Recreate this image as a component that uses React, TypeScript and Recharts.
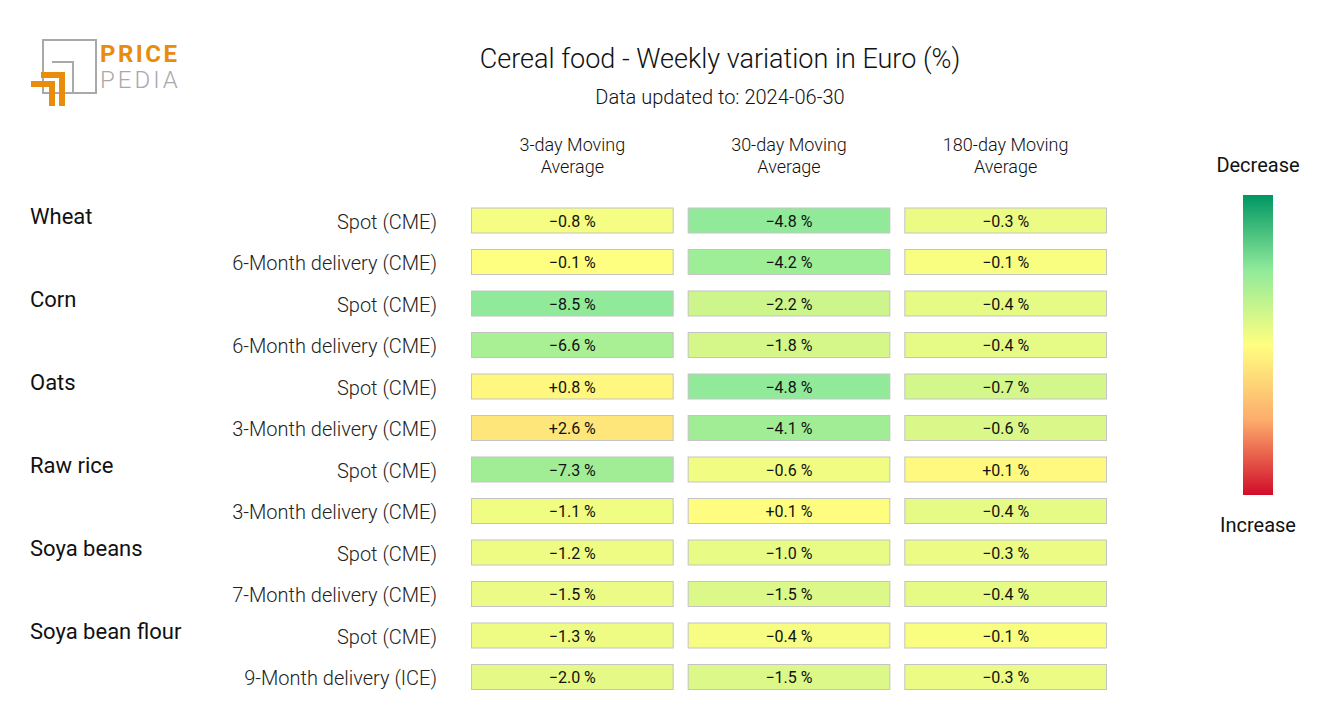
import { BarChart, Bar, XAxis, YAxis } from 'recharts';

// ---------------------------------------------------------------------------
// Data
// ---------------------------------------------------------------------------

const GROUPS = ['Wheat', 'Corn', 'Oats', 'Raw rice', 'Soya beans', 'Soya bean flour'];

const ROW_LABELS = [
  'Spot (CME)',
  '6-Month delivery (CME)',
  'Spot (CME)',
  '6-Month delivery (CME)',
  'Spot (CME)',
  '3-Month delivery (CME)',
  'Spot (CME)',
  '3-Month delivery (CME)',
  'Spot (CME)',
  '7-Month delivery (CME)',
  'Spot (CME)',
  '9-Month delivery (ICE)',
];

const COLUMN_HEADERS = [
  ['3-day Moving', 'Average'],
  ['30-day Moving', 'Average'],
  ['180-day Moving', 'Average'],
];

const MA_3 = [-0.8, -0.1, -8.5, -6.6, 0.8, 2.6, -7.3, -1.1, -1.2, -1.5, -1.3, -2.0];
const MA_30 = [-4.8, -4.2, -2.2, -1.8, -4.8, -4.1, -0.6, 0.1, -1.0, -1.5, -0.4, -1.5];
const MA_180 = [-0.3, -0.1, -0.4, -0.4, -0.7, -0.6, 0.1, -0.4, -0.3, -0.4, -0.1, -0.3];

// half-range of the colour scale for each column
const COLUMN_SCALE = [17, 9.6, 3.5];

// ---------------------------------------------------------------------------
// Colour scale (green = decrease, red = increase)
// ---------------------------------------------------------------------------

const STOPS: Array<[number, number[]]> = [
  [0, [0, 150, 99]],
  [0.25, [144, 234, 154]],
  [0.5, [255, 255, 128]],
  [0.75, [253, 172, 108]],
  [1, [209, 13, 42]],
];

function colourAt(t: number) {
  const p = Math.max(0, Math.min(1, t));
  for (let i = 1; i < STOPS.length; i++) {
    const [t1, c1] = STOPS[i];
    const [t0, c0] = STOPS[i - 1];
    if (p <= t1) {
      const f = (p - t0) / (t1 - t0);
      const c = c0.map((v, k) => Math.round(v + (c1[k] - v) * f));
      return `rgb(${c[0]},${c[1]},${c[2]})`;
    }
  }
  return 'rgb(209,13,42)';
}

const FONT = 'Roboto, "DejaVu Sans", sans-serif';

const table = ROW_LABELS.map((label, i) => ({
  row: i,
  label,
  group: i % 2 === 0 ? GROUPS[i / 2] : '',
  ma3: MA_3[i],
  ma30: MA_30[i],
  ma180: MA_180[i],
  span: 1,
}));

function fmt(v: number) {
  return `${v > 0 ? '+' : v < 0 ? '\u2212' : ''}${Math.abs(v).toFixed(1)} %`;
}

function makeCell(key: 'ma3' | 'ma30' | 'ma180', col: number) {
  return (props: any) => {
    const { x, y, width, height, payload } = props;
    const v = payload[key] as number;
    const gap = 15;
    const fill = colourAt(0.5 + v / (2 * COLUMN_SCALE[col]));
    return (
      <g>
        <rect
          x={x + gap / 2}
          y={y}
          width={width - gap}
          height={height}
          fill={fill}
          stroke="#c4c4c4"
          strokeWidth={1}
        />
        <text
          x={x + width / 2}
          y={y + height / 2 + 6}
          textAnchor="middle"
          fontFamily={FONT}
          fontSize={16}
          fill="#111"
        >
          {fmt(v)}
        </text>
      </g>
    );
  };
}

function RowTick(props: any) {
  const { y, payload } = props;
  const r = table[payload.value];
  if (!r) return null;
  return (
    <g>
      {r.group && (
        <text x={30} y={y + 3} fontFamily={FONT} fontSize={22} fontWeight={400} fill="#111">
          {r.group}
        </text>
      )}
      <text x={437} y={y + 8} textAnchor="end" fontFamily={FONT} fontSize={20} fontWeight={300} fill="#222">
        {r.label}
      </text>
    </g>
  );
}

function HeaderTick(props: any) {
  const { x, payload } = props;
  const idx = Math.floor(payload.value);
  const lines = COLUMN_HEADERS[idx];
  if (!lines) return null;
  return (
    <text x={x} textAnchor="middle" fontFamily={FONT} fontSize={18} fontWeight={300} fill="#111">
      <tspan x={x} y={151}>{lines[0]}</tspan>
      <tspan x={x} y={173}>{lines[1]}</tspan>
    </text>
  );
}

function Overlay() {
  const orange = '#e88c0c';
  const grey = '#a9a9a9';
  return (
    <svg
      width={1320}
      height={720}
      style={{ position: 'absolute', left: 0, top: 0, pointerEvents: 'none' }}
    >
      {/* logo */}
      <rect x={43} y={40} width={53} height={53} fill="none" stroke={grey} strokeWidth={2} />
      <polyline points="52,62 73,62 73,93" fill="none" stroke={grey} strokeWidth={2} />
      <polygon points="41,72 65,72 65,106 59,106 59,78 41,78" fill={orange} />
      <polygon points="31,81 55,81 55,106 49,106 49,87 31,87" fill={orange} />
      <text x={100} y={62} fontFamily={FONT} fontSize={24} fontWeight={700} letterSpacing={2.5} fill={orange}>PRICE</text>
      <text x={100} y={88} fontFamily={FONT} fontSize={24} fontWeight={300} letterSpacing={3} fill={grey}>PEDIA</text>

      {/* title */}
      <text x={720} y={68} textAnchor="middle" fontFamily={FONT} fontSize={27} fontWeight={300} fill="#111">
        Cereal food - Weekly variation in Euro (%)
      </text>
      <text x={720} y={104} textAnchor="middle" fontFamily={FONT} fontSize={20} fontWeight={300} fill="#111">
        Data updated to: 2024-06-30
      </text>

      {/* colour legend */}
      <defs>
        <linearGradient id="legendGrad" x1="0" y1="0" x2="0" y2="1">
          {STOPS.map(([t, c]) => (
            <stop key={t} offset={t} stopColor={`rgb(${c[0]},${c[1]},${c[2]})`} />
          ))}
        </linearGradient>
      </defs>
      <text x={1258} y={172} textAnchor="middle" fontFamily={FONT} fontSize={20} fill="#111">Decrease</text>
      <rect x={1243} y={195} width={30} height={300} fill="url(#legendGrad)" />
      <text x={1258} y={532} textAnchor="middle" fontFamily={FONT} fontSize={20} fill="#111">Increase</text>
    </svg>
  );
}

export default function App() {
  return (
    <div style={{ position: 'absolute', left: 0, top: 0, width: 1320, height: 720, background: '#fff' }}>
      <BarChart
        width={1320}
        height={720}
        data={table}
        layout="vertical"
        barSize={25}
        margin={{ top: 130, right: 206, bottom: 22, left: 0 }}
      >
        <XAxis
          type="number"
          orientation="top"
          domain={[0, 3]}
          ticks={[0.5, 1.5, 2.5]}
          height={70}
          axisLine={false}
          tickLine={false}
          tick={<HeaderTick />}
        />
        <YAxis
          type="category"
          dataKey="row"
          width={464}
          axisLine={false}
          tickLine={false}
          interval={0}
          tick={<RowTick />}
        />
        <Bar dataKey="span" stackId="a" shape={makeCell('ma3', 0)} isAnimationActive={false} />
        <Bar dataKey="span" stackId="a" shape={makeCell('ma30', 1)} isAnimationActive={false} />
        <Bar dataKey="span" stackId="a" shape={makeCell('ma180', 2)} isAnimationActive={false} />
      </BarChart>
      <Overlay />
    </div>
  );
}
